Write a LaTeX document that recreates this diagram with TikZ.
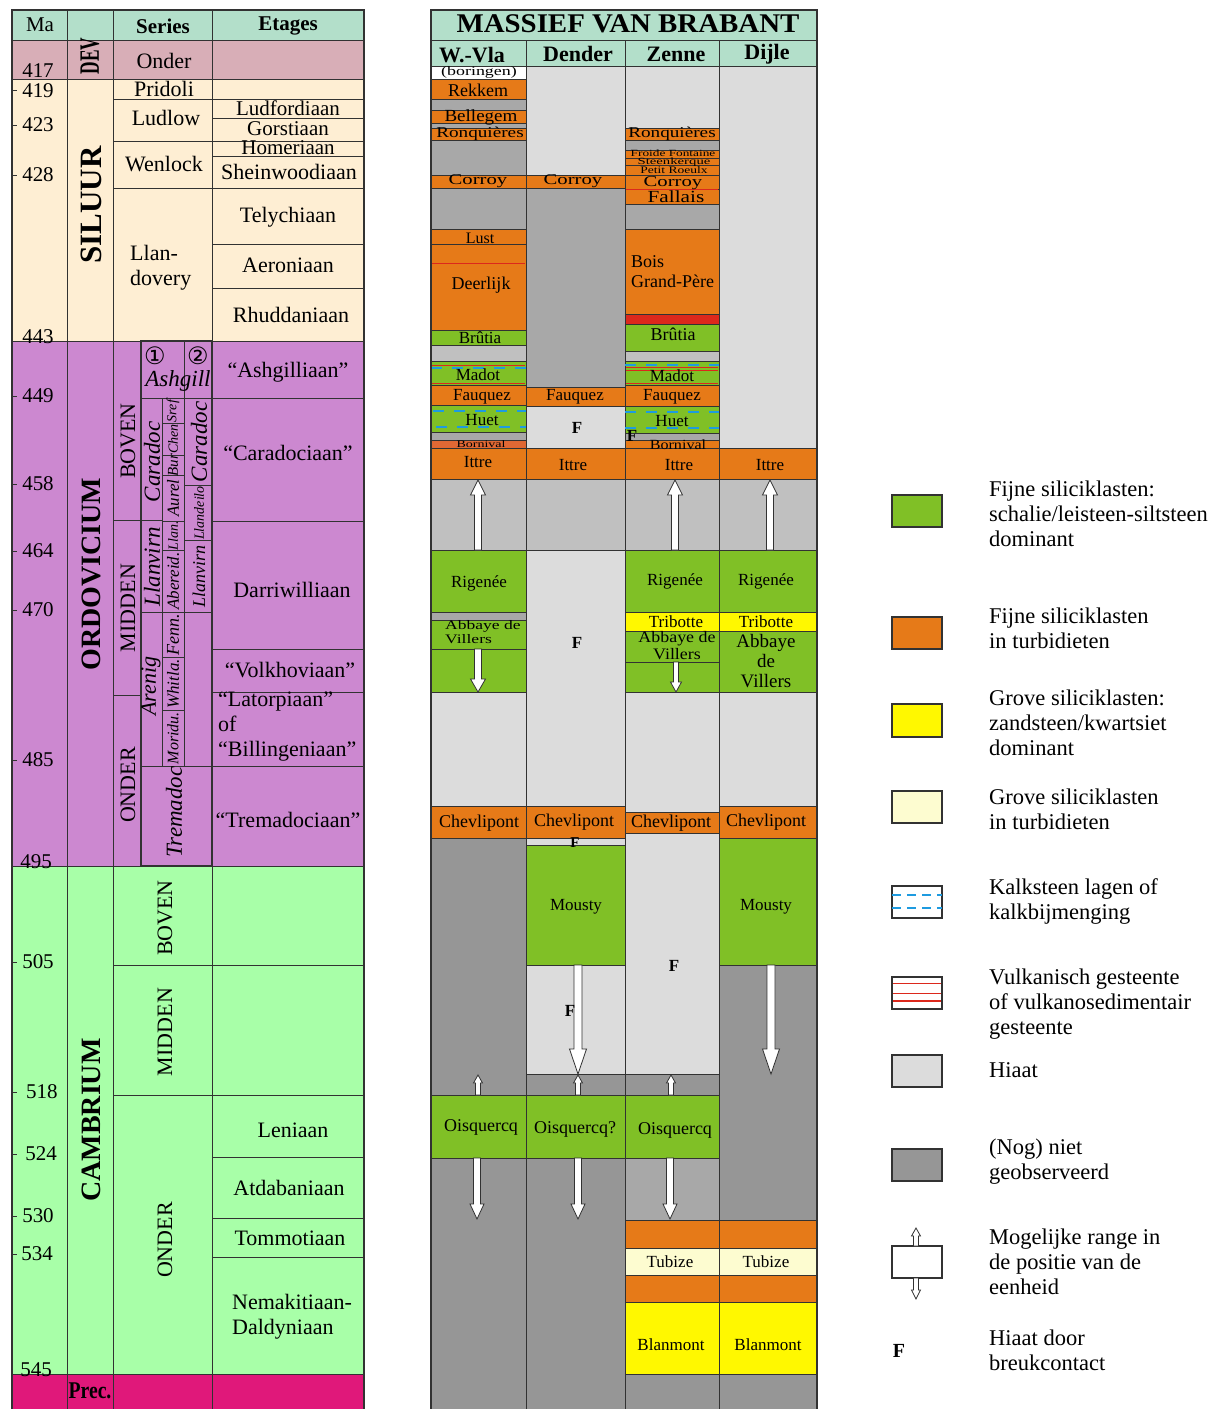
\documentclass[tikz,border=0pt]{standalone}
\usepackage{graphicx}
\usepackage{fontspec}
\setmainfont{Liberation Serif}
\newfontfamily\symf{DejaVu Sans}
\definecolor{mint}{RGB}{179,223,202}
\definecolor{devc}{RGB}{216,174,183}
\definecolor{silc}{RGB}{254,238,211}
\definecolor{ordc}{RGB}{204,136,208}
\definecolor{camc}{RGB}{168,255,168}
\definecolor{prec}{RGB}{224,24,122}
\definecolor{grn}{RGB}{128,192,38}
\definecolor{org}{RGB}{230,122,24}
\definecolor{borc}{RGB}{224,104,52}
\definecolor{yel}{RGB}{255,248,0}
\definecolor{lyel}{RGB}{253,252,208}
\definecolor{hia}{RGB}{220,220,220}
\definecolor{dgr}{RGB}{150,150,150}
\definecolor{mgr}{RGB}{168,168,168}
\definecolor{lgr}{RGB}{192,192,192}
\definecolor{redc}{RGB}{220,40,28}
\definecolor{bluc}{RGB}{30,155,224}
\definecolor{lc}{RGB}{50,50,50}
\newcommand\fsz[1]{\fontsize{#1}{#1}\selectfont}
\newcommand\blk[5]{\filldraw[lay,fill=#5] (#1,#3) rectangle (#2,#4);}
\newcommand\farr[6]{\filldraw[arr] ({#1-#5},#2) -- ({#1-#5},#3) -- ({#1-#6},#3) -- (#1,#4) -- ({#1+#6},#3) -- ({#1+#5},#3) -- ({#1+#5},#2) -- cycle;}
\begin{document}
\begin{tikzpicture}[x=1pt,y=-1pt,
  lay/.style={draw=lc,line width=0.9pt},
  grid/.style={draw=lc,line width=0.9pt},
  arr/.style={draw=lc,fill=white,line width=0.8pt,line join=miter},
  tl/.style={inner sep=0pt,text=black},
  dsh/.style={draw=bluc,line width=2.4pt,dash pattern=on 11pt off 10pt},
  vl/.style={draw=redc,line width=1pt},
  lgbox/.style={draw=lc,line width=1.5pt},
  lgtext/.style={tl,align=left,anchor=west,font=\fontsize{22.5}{25}\selectfont}]
\useasboundingbox (0,0) rectangle (1220,1409);
\fill[white] (0,0) rectangle (1220,1409);

% ================= LEFT TABLE =================
\fill[mint] (12,10) rectangle (364,40);
\fill[devc] (12,40) rectangle (364,79);
\fill[silc] (12,79) rectangle (364,341);
\fill[ordc] (12,341) rectangle (364,866);
\fill[camc] (12,866) rectangle (364,1374);
\fill[prec] (12,1374) rectangle (364,1409);

\draw[grid] (12,40) -- (364,40) (12,79) -- (364,79) (12,341) -- (364,341)
  (12,866) -- (364,866) (12,1374) -- (364,1374);
\draw[grid] (67,10) -- (67,1409) (113,10) -- (113,1409) (212,10) -- (212,1409);
% Silurian
\draw[grid] (113,99) -- (364,99) (113,141) -- (364,141) (113,188) -- (364,188)
  (212,118) -- (364,118) (212,156) -- (364,156) (212,244) -- (364,244) (212,288) -- (364,288);
% Ordovician
\draw[grid] (113,520) -- (141,520) (113,695) -- (141,695)
  (212,398) -- (364,398) (212,521) -- (364,521) (212,649) -- (364,649)
  (212,692) -- (364,692) (212,766) -- (364,766);
\draw[grid] (162,398) -- (162,766) (184,341) -- (184,766)
  (141,398) -- (212,398) (141,766) -- (212,766) (141,520) -- (162,520) (141,612) -- (212,612)
  (162,423) -- (184,423) (162,455) -- (184,455) (162,475) -- (184,475) (162,521) -- (184,521)
  (162,550) -- (184,550) (162,657) -- (184,657) (162,710) -- (184,710)
  (184,485) -- (212,485) (184,540) -- (212,540);
\draw[lc,line width=2.6pt] (141,341) rectangle (212,866);
% Cambrian
\draw[grid] (113,965) -- (364,965) (113,1095) -- (364,1095) (212,1157) -- (364,1157)
  (212,1218) -- (364,1218) (212,1257) -- (364,1257);
\draw[lc,line width=2pt] (12,1409) -- (12,10) -- (364,10) -- (364,1409);
\foreach \y in {90,125,175,396,484,551,610,760,962,1092,1154,1216,1254}
  \draw[grid] (12,\y) -- (17,\y);

% Ma labels
\node[tl,font=\fsz{21}] (m417) at (38,71) {417};
\node[tl,font=\fsz{21}] (m419) at (38,91) {419};
\node[tl,font=\fsz{21}] (m423) at (38,125) {423};
\node[tl,font=\fsz{21}] (m428) at (38,175) {428};
\node[tl,font=\fsz{21}] (m443) at (38,337) {443};
\node[tl,font=\fsz{21}] (m449) at (38,396) {449};
\node[tl,font=\fsz{21}] (m458) at (38,484) {458};
\node[tl,font=\fsz{21}] (m464) at (38,551) {464};
\node[tl,font=\fsz{21}] (m470) at (38,610) {470};
\node[tl,font=\fsz{21}] (m485) at (38,760) {485};
\node[tl,font=\fsz{21}] (m495) at (36,862) {495};
\node[tl,font=\fsz{21}] (m505) at (38,962) {505};
\node[tl,font=\fsz{21}] (m518) at (42,1092) {518};
\node[tl,font=\fsz{21}] (m524) at (41,1154) {524};
\node[tl,font=\fsz{21}] (m530) at (38,1216) {530};
\node[tl,font=\fsz{21}] (m534) at (37,1254) {534};
\node[tl,font=\fsz{21}] (m545) at (36,1370) {545};

% headers
\node[tl,font=\fsz{21}] (hMa) at (40,25) {Ma};
\node[tl,font=\bfseries\fsz{21}] (hSer) at (163,26) {Series};
\node[tl,font=\bfseries\fsz{21}] (hEt) at (288,26) {Etages};

% periods
\node[tl,rotate=90,font=\bfseries\fsz{28}] (pDev) at (90,56) {\scalebox{0.62}[1]{DEV}};
\node[tl,rotate=90,font=\bfseries\fsz{31}] (pSil) at (91,205) {SILUUR};
\node[tl,rotate=90,font=\bfseries\fsz{28}] (pOrd) at (91,574) {ORDOVICIUM};
\node[tl,rotate=90,font=\bfseries\fsz{28}] (pCam) at (91,1120) {CAMBRIUM};
\node[tl,font=\bfseries\fsz{24}] (pPre) at (90,1391) {\scalebox{0.82}[1]{Prec.}};

% series
\node[tl,font=\fsz{22}] (sOnd) at (164,61) {Onder};
\node[tl,font=\fsz{22}] (sPri) at (164,89) {Pridoli};
\node[tl,font=\fsz{22}] (sLud) at (166,118) {Ludlow};
\node[tl,font=\fsz{22}] (sWen) at (164,164) {Wenlock};
\node[tl,align=left,anchor=west,font=\fontsize{22}{25}\selectfont] (sLla) at (130,268) {Llan-\\dovery};
\node[tl,rotate=90,font=\fsz{22}] (sOB) at (128,441) {BOVEN};
\node[tl,rotate=90,font=\fsz{22}] (sOM) at (128,608) {MIDDEN};
\node[tl,rotate=90,font=\fsz{22}] (sOO) at (128,785) {ONDER};
\node[tl,rotate=90,font=\fsz{22}] (sCB) at (165,918) {BOVEN};
\node[tl,rotate=90,font=\fsz{22}] (sCM) at (165,1032) {MIDDEN};
\node[tl,rotate=90,font=\fsz{22}] (sCO) at (165,1240) {ONDER};

% inner Ordovician subdivisions
\node[tl,font=\symf\fsz{24}] (c1) at (155,356) {①};
\node[tl,font=\symf\fsz{24}] (c2) at (198,356) {②};
\node[tl,font=\itshape\fsz{23}] (iAsh) at (178,381) {Ashgill};
\node[tl,rotate=90,font=\itshape\fsz{23}] (iCar1) at (152,462) {Caradoc};
\node[tl,rotate=90,font=\itshape\fsz{23}] (iLlv1) at (152,567) {Llanvirn};
\node[tl,rotate=90,font=\itshape\fsz{22}] (iAre) at (151,686) {Arenig};
\node[tl,rotate=90,font=\itshape\fsz{23}] (iTre) at (174,812) {Tremadoc};
\node[tl,rotate=90,font=\itshape\fsz{14}] (iSre) at (173,411) {Sref};
\node[tl,rotate=90,font=\itshape\fsz{14}] (iChe) at (173,439) {Chen};
\node[tl,rotate=90,font=\itshape\fsz{15}] (iBur) at (173,465) {Bur};
\node[tl,rotate=90,font=\itshape\fsz{17}] (iAur) at (173,498) {Aurel};
\node[tl,rotate=90,font=\itshape\fsz{14}] (iLla) at (173,536) {Llan.};
\node[tl,rotate=90,font=\itshape\fsz{17}] (iAbe) at (173,581) {Abereid.};
\node[tl,rotate=90,font=\itshape\fsz{18}] (iFen) at (173,635) {Fenn.};
\node[tl,rotate=90,font=\itshape\fsz{17}] (iWhi) at (173,684) {Whitla.};
\node[tl,rotate=90,font=\itshape\fsz{16}] (iMor) at (173,738) {Moridu.};
\node[tl,rotate=90,font=\itshape\fsz{23}] (iCar2) at (199,442) {Caradoc};
\node[tl,rotate=90,font=\itshape\fsz{14}] (iLld) at (199,513) {Llandeilo};
\node[tl,rotate=90,font=\itshape\fsz{18}] (iLlv2) at (199,576) {Llanvirn};

% etages
\node[tl,font=\fsz{21}] (eLdf) at (288,108) {Ludfordiaan};
\node[tl,font=\fsz{21}] (eGor) at (288,129) {Gorstiaan};
\node[tl,font=\fsz{21}] (eHom) at (288,148) {Homeriaan};
\node[tl,font=\fsz{22}] (eShe) at (289,172) {Sheinwoodiaan};
\node[tl,font=\fsz{22}] (eTel) at (288,217) {Telychiaan};
\node[tl,font=\fsz{22}] (eAer) at (288,265) {Aeroniaan};
\node[tl,font=\fsz{22}] (eRhu) at (291,315) {Rhuddaniaan};
\node[tl,font=\fsz{22}] (eAsh) at (288,372) {“Ashgilliaan”};
\node[tl,font=\fsz{22}] (eCar) at (288,453) {“Caradociaan”};
\node[tl,font=\fsz{22}] (eDar) at (292,590) {Darriwilliaan};
\node[tl,font=\fsz{22}] (eVol) at (290,670) {“Volkhoviaan”};
\node[tl,align=left,anchor=west,font=\fontsize{22}{25}\selectfont] (eLat) at (218,727) {“Latorpiaan”\\of\\“Billingeniaan”};
\node[tl,font=\fsz{22}] (eTre) at (288,820) {“Tremadociaan”};
\node[tl,font=\fsz{22}] (eLen) at (293,1130) {Leniaan};
\node[tl,font=\fsz{22}] (eAtd) at (289,1188) {Atdabaniaan};
\node[tl,font=\fsz{22}] (eTom) at (290,1238) {Tommotiaan};
\node[tl,align=left,anchor=west,font=\fontsize{22}{25}\selectfont] (eNem) at (232,1317) {Nemakitiaan-\\Daldyniaan};

% ================= RIGHT PANEL =================
\fill[mint] (431,10) rectangle (817,66);
% W.-Vla
\blk{431}{526}{66}{79}{white}
\blk{431}{526}{79}{99}{org}
\blk{431}{526}{99}{110}{mgr}
\blk{431}{526}{110}{123}{org}
\blk{431}{526}{123}{128}{mgr}
\blk{431}{526}{128}{140}{org}
\blk{431}{526}{140}{175}{mgr}
\blk{431}{526}{175}{188}{org}
\blk{431}{526}{188}{229}{mgr}
\blk{431}{526}{229}{244}{org}
\blk{431}{526}{244}{330}{org}
\blk{431}{526}{330}{345}{grn}
\blk{431}{526}{345}{361}{lgr}
\blk{431}{526}{361}{385}{grn}
\blk{431}{526}{385}{405}{org}
\blk{431}{526}{405}{432}{grn}
\blk{431}{526}{432}{440}{mgr}
\blk{431}{526}{440}{448}{borc}
\blk{431}{526}{448}{479}{org}
\blk{431}{526}{479}{550}{lgr}
\blk{431}{526}{550}{612}{grn}
\blk{431}{526}{612}{620}{mgr}
\blk{431}{526}{620}{649}{grn}
\blk{431}{526}{649}{692}{grn}
\blk{431}{526}{692}{806}{hia}
\blk{431}{526}{806}{838}{org}
\blk{431}{526}{838}{1095}{dgr}
\blk{431}{526}{1095}{1158}{grn}
\blk{431}{526}{1158}{1409}{dgr}
% Dender
\blk{526}{625}{66}{175}{hia}
\blk{526}{625}{175}{188}{org}
\blk{526}{625}{188}{387}{mgr}
\blk{526}{625}{387}{406}{org}
\blk{526}{625}{406}{448}{hia}
\blk{526}{625}{448}{479}{org}
\blk{526}{625}{479}{550}{lgr}
\blk{526}{625}{550}{806}{hia}
\blk{526}{625}{806}{838}{org}
\blk{526}{625}{838}{845}{hia}
\blk{526}{625}{845}{965}{grn}
\blk{526}{625}{965}{1074}{hia}
\blk{526}{625}{1074}{1095}{dgr}
\blk{526}{625}{1095}{1158}{grn}
\blk{526}{625}{1158}{1409}{dgr}
% Zenne
\blk{625}{719}{66}{128}{hia}
\blk{625}{719}{128}{140}{org}
\blk{625}{719}{140}{150}{mgr}
\blk{625}{719}{150}{158}{org}
\blk{625}{719}{158}{165}{org}
\blk{625}{719}{165}{175}{org}
\blk{625}{719}{175}{189}{org}
\blk{625}{719}{189}{204}{org}
\blk{625}{719}{204}{229}{mgr}
\blk{625}{719}{229}{314}{org}
\blk{625}{719}{314}{324}{redc}
\blk{625}{719}{324}{351}{grn}
\blk{625}{719}{351}{361}{lgr}
\blk{625}{719}{361}{385}{grn}
\blk{625}{719}{385}{406}{org}
\blk{625}{719}{406}{433}{grn}
\blk{625}{719}{433}{440}{mgr}
\blk{625}{719}{440}{448}{org}
\blk{625}{719}{448}{479}{org}
\blk{625}{719}{479}{550}{lgr}
\blk{625}{719}{550}{612}{grn}
\blk{625}{719}{612}{631}{yel}
\blk{625}{719}{631}{662}{grn}
\blk{625}{719}{662}{692}{grn}
\blk{625}{719}{692}{812}{hia}
\blk{625}{719}{812}{833}{org}
\blk{625}{719}{833}{1074}{hia}
\blk{625}{719}{1074}{1095}{dgr}
\blk{625}{719}{1095}{1158}{grn}
\blk{625}{719}{1158}{1220}{mgr}
\blk{625}{719}{1220}{1248}{org}
\blk{625}{719}{1248}{1275}{lyel}
\blk{625}{719}{1275}{1302}{org}
\blk{625}{719}{1302}{1374}{yel}
\blk{625}{719}{1374}{1409}{dgr}
% Dijle
\blk{719}{817}{66}{448}{hia}
\blk{719}{817}{448}{479}{org}
\blk{719}{817}{479}{550}{lgr}
\blk{719}{817}{550}{612}{grn}
\blk{719}{817}{612}{631}{yel}
\blk{719}{817}{631}{692}{grn}
\blk{719}{817}{692}{806}{hia}
\blk{719}{817}{806}{838}{org}
\blk{719}{817}{838}{965}{grn}
\blk{719}{817}{965}{1220}{dgr}
\blk{719}{817}{1220}{1248}{org}
\blk{719}{817}{1248}{1275}{lyel}
\blk{719}{817}{1275}{1302}{org}
\blk{719}{817}{1302}{1374}{yel}
\blk{719}{817}{1374}{1409}{dgr}

% volcanic and limestone lines
\draw[vl] (432,263) -- (525,263);
\draw[vl] (626,189) -- (718,189);
\draw[vl,line width=0.8pt] (432,365) -- (525,365) (432,383) -- (525,383);
\draw[dsh] (431,368) -- (526,368);
\draw[vl,line width=0.8pt] (626,367) -- (718,367) (626,370) -- (718,370) (626,383) -- (718,383);
\draw[dsh] (625,365) -- (719,365);
\draw[dsh] (433,411) -- (526,411) (436,427) -- (526,427);
\draw[dsh] (625,412) -- (719,412) (625,428) -- (719,428);

% header lines and border
\draw[lay] (431,40) -- (817,40) (431,66) -- (817,66) (526,40) -- (526,66) (625,40) -- (625,66) (719,40) -- (719,66);
\draw[lc,line width=2.6pt] (431,1409) -- (431,10) -- (817,10) -- (817,1409);

% arrows
\farr{478}{550}{495}{480}{3.5}{7.5}
\farr{675}{550}{495}{480}{3.5}{7.5}
\farr{770}{550}{495}{480}{3.5}{7.5}
\farr{478}{649}{679}{692}{3.5}{7.5}
\farr{676}{662}{682}{692}{2.5}{5.5}
\farr{578}{965}{1049}{1074}{4}{8.5}
\farr{771}{965}{1049}{1074}{4}{8.5}
\farr{478}{1095}{1083}{1075}{2.5}{4.5}
\farr{578}{1095}{1083}{1075}{2.5}{4.5}
\farr{671}{1095}{1083}{1075}{2.5}{4.5}
\farr{477}{1158}{1204}{1219}{3.5}{7}
\farr{578}{1158}{1204}{1219}{3.5}{7}
\farr{670}{1158}{1204}{1219}{3.5}{7}

% titles
\node[tl,font=\bfseries\fsz{27}] (tMas) at (628,24) {\scalebox{1.07}[1]{MASSIEF VAN BRABANT}};
\node[tl,font=\bfseries\fsz{22}] (tWV) at (472,55) {W.-Vla};
\node[tl,font=\bfseries\fsz{22}] (tDe) at (578,54) {Dender};
\node[tl,font=\bfseries\fsz{22}] (tZe) at (676,54) {Zenne};
\node[tl,font=\bfseries\fsz{22}] (tDi) at (767,54) {Dijle};

% unit names W.-Vla
\node[tl,font=\fsz{13}] (wBor) at (479,72) {\scalebox{1.38}[1]{(boringen)}};
\node[tl,font=\fsz{18}] (wRek) at (478,90) {Rekkem};
\node[tl,font=\fsz{17}] (wBel) at (481,117) {\scalebox{1.12}[1]{Bellegem}};
\node[tl,font=\fsz{15}] (wRon) at (480,134) {\scalebox{1.28}[1]{Ronquières}};
\node[tl,font=\fsz{15}] (wCor) at (478,181) {\scalebox{1.38}[1]{Corroy}};
\node[tl,font=\fsz{16}] (wLus) at (480,238) {Lust};
\node[tl,font=\fsz{18}] (wDee) at (481,285) {Deerlijk};
\node[tl,font=\fsz{17}] (wBru) at (480,338) {Brûtia};
\node[tl,font=\fsz{17}] (wMad) at (478,375) {Madot};
\node[tl,font=\fsz{17}] (wFau) at (482,397) {Fauquez};
\node[tl,font=\fsz{17}] (wHue) at (482,420) {Huet};
\node[tl,font=\fsz{10}] (wBorn) at (481,444) {\scalebox{1.4}[1]{Bornival}};
\node[tl,font=\fsz{17}] (wItt) at (478,462) {Ittre};
\node[tl,font=\fsz{17}] (wRig) at (479,583) {Rigenée};
\node[tl,anchor=west,font=\fontsize{13}{14}\selectfont] (wAbb) at (445,634) {\scalebox{1.35}[1]{\begin{tabular}{@{}l@{}}Abbaye de\\Villers\end{tabular}}};
\node[tl,font=\fsz{18}] (wChe) at (479,823) {Chevlipont};
\node[tl,font=\fsz{18}] (wOis) at (481,1127) {Oisquercq};
% Dender
\node[tl,font=\fsz{15}] (dCor) at (573,181) {\scalebox{1.38}[1]{Corroy}};
\node[tl,font=\fsz{17}] (dFau) at (575,397) {Fauquez};
\node[tl,font=\bfseries\fsz{17}] (dF1) at (577,428) {F};
\node[tl,font=\fsz{17}] (dItt) at (573,465) {Ittre};
\node[tl,font=\bfseries\fsz{17}] (dF2) at (577,643) {F};
\node[tl,font=\fsz{18}] (dChe) at (574,822) {Chevlipont};
\node[tl,font=\bfseries\fsz{15}] (dF3) at (575,843) {F};
\node[tl,font=\fsz{17}] (dMou) at (576,907) {Mousty};
\node[tl,font=\bfseries\fsz{17}] (dF4) at (570,1011) {F};
\node[tl,font=\fsz{18}] (dOis) at (575,1129) {Oisquercq?};
% Zenne
\node[tl,font=\fsz{15}] (zRon) at (672,134) {\scalebox{1.28}[1]{Ronquières}};
\node[tl,font=\fsz{9.5}] (zFro) at (673,153.5) {\scalebox{1.4}[1]{Froide Fontaine}};
\node[tl,font=\fsz{9.5}] (zSte) at (674,162) {\scalebox{1.55}[1]{Steenkerque}};
\node[tl,font=\fsz{10}] (zPet) at (674,170.5) {\scalebox{1.35}[1]{Petit Roeulx}};
\node[tl,font=\fsz{15}] (zCor) at (673,183) {\scalebox{1.38}[1]{Corroy}};
\node[tl,font=\fsz{17}] (zFal) at (676,197) {\scalebox{1.25}[1]{Fallais}};
\node[tl,align=left,anchor=west,font=\fontsize{18}{20}\selectfont] (zBoi) at (631,272) {Bois\\Grand-Père};
\node[tl,font=\fsz{18}] (zBru) at (673,334) {Brûtia};
\node[tl,font=\fsz{17}] (zMad) at (672,376) {Madot};
\node[tl,font=\fsz{17}] (zFau) at (672,397) {Fauquez};
\node[tl,font=\fsz{17}] (zHue) at (672,421) {Huet};
\node[tl,font=\bfseries\fsz{17}] (zF1) at (632,436) {F};
\node[tl,font=\fsz{14}] (zBorn) at (678,445) {\scalebox{1.15}[1]{Bornival}};
\node[tl,font=\fsz{17}] (zItt) at (679,465) {Ittre};
\node[tl,font=\fsz{17}] (zRig) at (675,581) {Rigenée};
\node[tl,font=\fsz{17}] (zTri) at (676,622) {Tribotte};
\node[tl,font=\fontsize{16}{17}\selectfont] (zAbb) at (677,648) {\scalebox{1.12}[1]{\begin{tabular}{@{}c@{}}Abbaye de\\Villers\end{tabular}}};
\node[tl,font=\fsz{18}] (zChe) at (671,823) {Chevlipont};
\node[tl,font=\bfseries\fsz{17}] (zF2) at (674,966) {F};
\node[tl,font=\fsz{18}] (zOis) at (675,1130) {Oisquercq};
\node[tl,font=\fsz{17}] (zTub) at (670,1262) {Tubize};
\node[tl,font=\fsz{17}] (zBla) at (671,1345) {Blanmont};
% Dijle
\node[tl,font=\fsz{17}] (jItt) at (770,465) {Ittre};
\node[tl,font=\fsz{17}] (jRig) at (766,581) {Rigenée};
\node[tl,font=\fsz{17}] (jTri) at (766,622) {Tribotte};
\node[tl,align=center,font=\fontsize{19}{20}\selectfont] (jAbb) at (766,661) {Abbaye\\de\\Villers};
\node[tl,font=\fsz{18}] (jChe) at (766,822) {Chevlipont};
\node[tl,font=\fsz{17}] (jMou) at (766,907) {Mousty};
\node[tl,font=\fsz{17}] (jTub) at (766,1262) {Tubize};
\node[tl,font=\fsz{17}] (jBla) at (768,1345) {Blanmont};

% ================= LEGEND =================
\filldraw[lgbox,fill=grn] (892,495) rectangle (942,527);
\node[lgtext] (lg1) at (989,514) {Fijne siliciklasten:\\schalie/leisteen-siltsteen\\dominant};
\filldraw[lgbox,fill=org] (892,617) rectangle (942,649);
\node[lgtext] (lg2) at (989,628.5) {Fijne siliciklasten\\in turbidieten};
\filldraw[lgbox,fill=yel] (892,704) rectangle (942,737);
\node[lgtext] (lg3) at (989,723) {Grove siliciklasten:\\zandsteen/kwartsiet\\dominant};
\filldraw[lgbox,fill=lyel] (892,791) rectangle (942,823);
\node[lgtext] (lg4) at (989,809.5) {Grove siliciklasten\\in turbidieten};
\filldraw[lgbox,fill=white] (892,886) rectangle (942,918);
\draw[dsh,line width=2pt,dash pattern=on 9pt off 6pt] (892,895) -- (942,895) (892,908) -- (942,908);
\node[lgtext] (lg5) at (989,901.5) {Kalksteen lagen of\\kalkbijmenging};
\filldraw[lgbox,fill=white] (892,977) rectangle (942,1009);
\draw[vl,line width=0.8pt] (893,983) -- (941,983) (893,993) -- (941,993);
\draw[vl,line width=2pt] (893,1001) -- (941,1001);
\node[lgtext] (lg6) at (989,1004) {Vulkanisch gesteente\\of vulkanosedimentair\\gesteente};
\filldraw[lgbox,fill=hia] (892,1055) rectangle (942,1087);
\node[lgtext] (lg7) at (989,1070) {Hiaat};
\filldraw[lgbox,fill=dgr] (892,1149) rectangle (942,1181);
\node[lgtext] (lg8) at (989,1162) {(Nog) niet\\geobserveerd};
\filldraw[lgbox,fill=white] (892,1246) rectangle (942,1278);
\farr{916}{1246}{1236}{1228}{2.5}{4.5}
\farr{916}{1278}{1290}{1299}{2.5}{4.5}
\node[lgtext] (lg9) at (989,1262) {Mogelijke range in\\de positie van de\\eenheid};
\node[tl,font=\bfseries\fsz{20}] (lgF) at (899,1351) {F};
\node[lgtext] (lg10) at (989,1350.5) {Hiaat door\\breukcontact};
\end{tikzpicture}
\end{document}
